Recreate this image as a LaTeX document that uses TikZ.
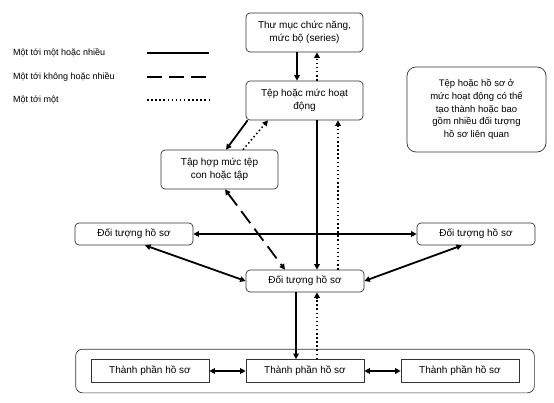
\documentclass[tikz,border=0pt]{standalone}
\usepackage{fontspec}
\setmainfont{Liberation Sans}
\usetikzlibrary{positioning, arrows.meta, fit}
\tikzset{
  box/.style     = {draw=black!80, line width=0.7pt, rounded corners=4pt, align=center,
                    font=\fontsize{10}{13}\selectfont, inner sep=2pt},
  bigbox/.style  = {box, minimum width=117pt, minimum height=39pt},
  objbox/.style  = {box, minimum width=118pt, minimum height=22pt},
  partbox/.style = {box, rounded corners=0pt, minimum width=118pt, minimum height=23pt},
  notebox/.style = {box, rounded corners=9pt, minimum width=139pt, minimum height=85pt,
                    font=\fontsize{9.5}{12.6}\selectfont},
  groupbox/.style = {box, rounded corners=7pt, inner xsep=15pt, inner ysep=10pt},
  legend/.style  = {anchor=west, font=\fontsize{9}{11}\selectfont, inner sep=0pt},
  onemany/.style = {line width=1.8pt, ->},                        % one to one or many
  zeromany/.style = {onemany, dash pattern=on 15pt off 7pt},      % one to zero or many
  oneone/.style  = {onemany, line width=1.5pt, dash pattern=on 1.5pt off 2.6pt},
}

\begin{document}
\begin{tikzpicture}[x=1pt, y=-1pt, >={Triangle[length=5.5pt, width=5.5pt]}]
  \useasboundingbox (0,0) rectangle (554,403);

  % legend
  \node[legend] at (13, 53)  (lg1) {Một tới một hoặc nhiều};
  \node[legend] at (13, 77)  (lg2) {Một tới không hoặc nhiều};
  \node[legend] at (13,100)  (lg3) {Một tới một};
  \coordinate (s1a) at (147, 53);  \coordinate (s1b) at (209, 53);
  \coordinate (s2a) at (147, 77);  \coordinate (s2b) at (209, 77);
  \coordinate (s3a) at (147,100);  \coordinate (s3b) at (209,100);
  \draw[onemany, -]  (s1a) -- (s1b);
  \draw[zeromany, -] (s2a) -- (s2b);
  \draw[oneone, -]   (s3a) -- (s3b);

  \node[bigbox]  at (304.5, 32.5) (func)   {Thư mục chức năng,\\mức bộ (series)};
  \node[bigbox]  at (304.5,100.5) (file)   {Tệp hoặc mức hoạt\\động};
  \node[bigbox]  at (219.5,169.5) (subset) {Tập hợp mức tệp\\con hoặc tập};
  \node[notebox] at (476.5,109.5) (note)   {Tệp hoặc hồ sơ ở\\mức hoạt động có thể\\tạo thành hoặc bao\\gồm nhiều đối tượng\\hồ sơ liên quan};

  \node[objbox]  at (134,234)     (objL)   {Đối tượng hồ sơ};
  \node[objbox]  at (476,234)     (objR)   {Đối tượng hồ sơ};
  \node[objbox]  at (305,281)     (obj)    {Đối tượng hồ sơ};

  \node[partbox] at (150,371)     (partL)  {Thành phần hồ sơ};
  \node[partbox] at (305,371)     (partM)  {Thành phần hồ sơ};
  \node[partbox] at (460,371)     (partR)  {Thành phần hồ sơ};
  \node[groupbox, fit=(partL)(partR)] (group) {};

  \draw[onemany] ([xshift=-7.5pt]func.south)  -- ([xshift=-7.5pt]file.north);
  \draw[oneone]  ([xshift=12.5pt]file.north)  -- ([xshift=12.5pt]func.south);
  \draw[onemany] ([xshift=2pt]file.south west) -- ([xshift=6.5pt]subset.north);
  \draw[oneone]  ([xshift=23.5pt]subset.north) -- ([xshift=-36.5pt]file.south);
  \draw[zeromany, <->] ([xshift=5.5pt]subset.south) -- ([xshift=-20pt]obj.north);
  \draw[onemany] ([xshift=12.5pt]file.south)  -- ([xshift=12pt]obj.north);
  \draw[oneone]  ([xshift=33pt]obj.north)     -- ([xshift=33.5pt]file.south);
  \draw[onemany, <->] (objL) -- (objR);
  \draw[onemany, <->] ([xshift=11pt]objL.south)  -- (obj.west);
  \draw[onemany, <->] ([xshift=-14pt]objR.south) -- (obj.east);
  \draw[onemany] ([xshift=-9pt]obj.south)     -- ([xshift=-9pt]partM.north);
  \draw[oneone]  ([xshift=12pt]partM.north)   -- ([xshift=12pt]obj.south);
  \draw[onemany, <->] (partL) -- (partM);
  \draw[onemany, <->] (partM) -- (partR);
\end{tikzpicture}
\end{document}
